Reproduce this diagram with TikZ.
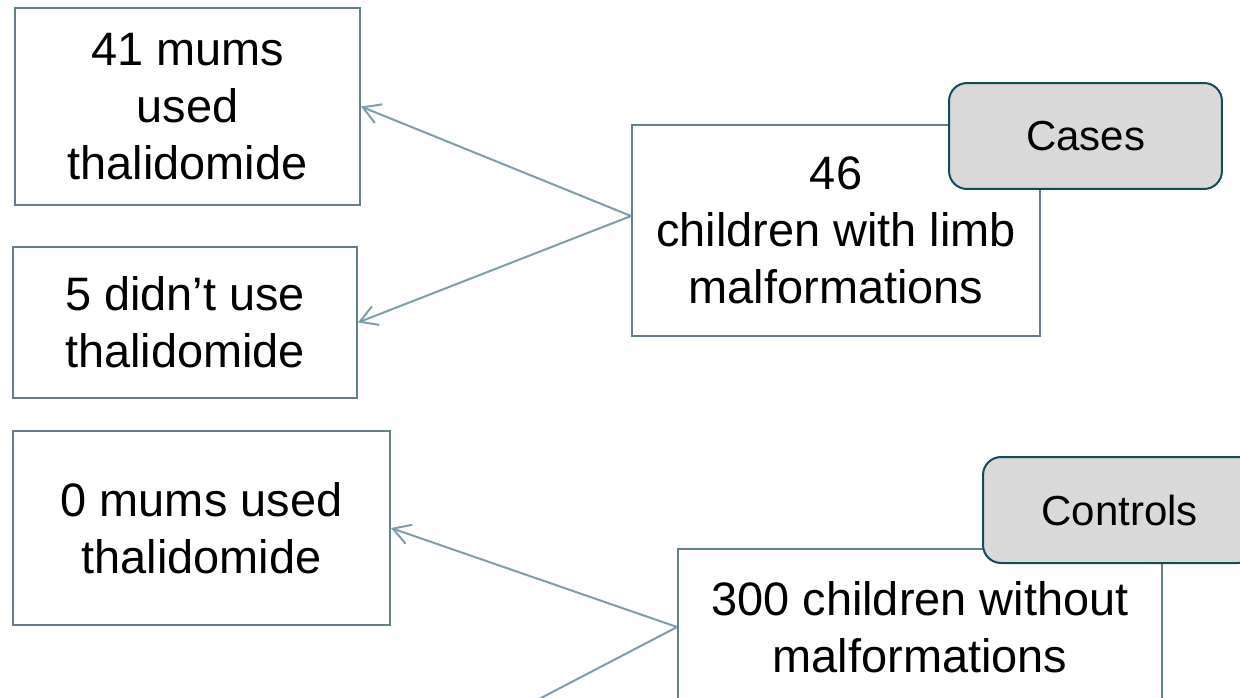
\documentclass[tikz,border=0pt]{standalone}
\usepackage{fontspec}
\setmainfont{Liberation Sans}
\usetikzlibrary{arrows.meta,calc}
\definecolor{boxline}{HTML}{62808A}
\definecolor{arrowline}{HTML}{7A9FAA}
\definecolor{tagline}{HTML}{0F4C5E}
\definecolor{tagfill}{HTML}{D9D9D9}
\tikzset{
  infobox/.style={draw=boxline, line width=0.04cm, fill=white, align=center,
    inner sep=0pt, font=\fontsize{26.7pt}{32.4pt}\selectfont},
  tagbox/.style={draw=tagline, fill=tagfill, line width=0.04cm,
    rounded corners=0.36cm, inner sep=0pt, font=\fontsize{23.9pt}{28pt}\selectfont},
  link/.style={draw=arrowline, line width=0.04cm,
    -{Straight Barb[length=0.34cm,width=0.4cm]}},
}
\begin{document}
\begin{tikzpicture}[x=0.02cm,y=-0.02cm]
  \useasboundingbox (0,0) rectangle (1240,697);
  \clip (0,0) rectangle (1240,697);

  % case group
  \node[infobox, minimum width=6.9cm, minimum height=3.94cm] (used) at (187.5,106.5)
    {41 mums\\used\\thalidomide};
  \node[infobox, minimum width=6.88cm, minimum height=3.02cm] (notused) at (185,322.5)
    {5 didn’t use\\thalidomide};
  \node[infobox, minimum width=8.16cm, minimum height=4.22cm] (cases) at (836,230.5)
    {46\\children with limb\\malformations};
  \node[tagbox, minimum width=5.46cm, minimum height=2.12cm] (casetag) at (1085.5,136) {Cases};

  % control group
  \node[infobox, minimum width=7.54cm, minimum height=3.88cm] (ctrlused) at (201.5,528)
    {0 mums used\\thalidomide};
  \node[infobox, minimum width=9.68cm, minimum height=3.12cm] (controls) at (920,627)
    {300 children without\\malformations};
  \node[tagbox, minimum width=5.46cm, minimum height=2.12cm] (ctrltag) at (1119.5,510) {Controls};

  % connectors
  \coordinate (caseorigin) at ([yshift=0.29cm]cases.west);
  \coordinate (ctrlnotused) at (403,770);
  \draw[link] (caseorigin) -- (used.east);
  \draw[link] (caseorigin) -- (notused.east);
  \draw[link] (controls.west) -- (ctrlused.east);
  \draw[link] (controls.west) -- (ctrlnotused);
\end{tikzpicture}
\end{document}
